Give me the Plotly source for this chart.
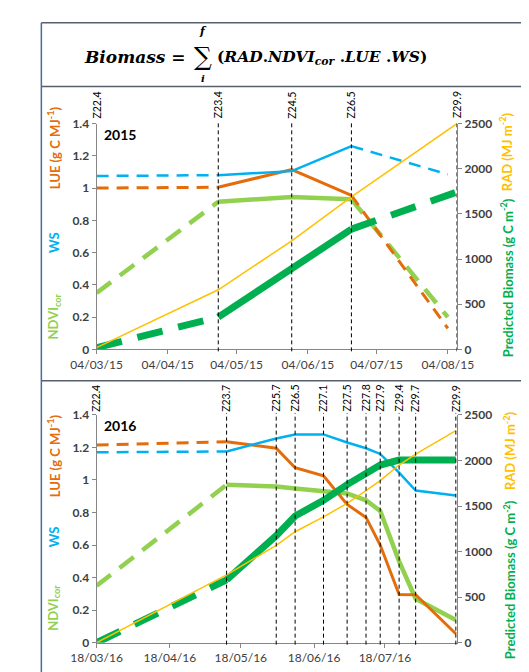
import plotly.graph_objects as go

W, H = 529, 672

# ---------------- 2015 data ----------------
stage_dates_15 = ["2015-03-04", "2015-04-26", "2015-05-28", "2015-06-23", "2015-08-08"]
stage_labels_15 = ["Z22.4", "Z23.4", "Z24.5", "Z26.5", "Z29.9"]
obs_dates_15 = ["2015-03-04", "2015-04-26", "2015-05-28", "2015-06-23", "2015-08-04"]
ws_15 = [1.075, 1.08, 1.105, 1.26, 1.085]
lue_15 = [1.0, 1.005, 1.115, 0.955, 0.13]
ndvi_15 = [0.35, 0.915, 0.945, 0.93, 0.2]
biomass_15 = [20, 357, 898, 1331, 1742]
rad_15 = [20, 660, 1201, 1688, 2500]
tick_dates_15 = ["2015-03-04", "2015-04-04", "2015-05-04", "2015-06-04", "2015-07-04", "2015-08-04"]
tick_labels_15 = ["04/03/15", "04/04/15", "04/05/15", "04/06/15", "04/07/15", "04/08/15"]
range_15 = ["2015-03-04", "2015-08-08"]

# ---------------- 2016 data ----------------
stage_dates_16 = ["2016-03-18", "2016-05-12", "2016-06-02", "2016-06-10", "2016-06-22", "2016-07-02",
                  "2016-07-10", "2016-07-16", "2016-07-24", "2016-07-31", "2016-08-17"]
stage_labels_16 = ["Z22.4", "Z23.7", "Z25.7", "Z26.5", "Z27.1", "Z27.5", "Z27.8", "Z27.9", "Z29.4", "Z29.7", "Z29.9"]
ws_16 = [1.17, 1.175, 1.255, 1.28, 1.28, 1.23, 1.195, 1.16, 1.045, 0.935, 0.905]
lue_16 = [1.215, 1.235, 1.195, 1.075, 1.026, 0.85, 0.77, 0.6, 0.296, 0.295, 0.055]
ndvi_16 = [0.35, 0.97, 0.96, 0.947, 0.93, 0.917, 0.875, 0.81, 0.5, 0.27, 0.14]
biomass_16 = [0, 690, 1175, 1390, 1562, 1735, 1864, 1950, 2004, 2004, 2004]
rad_16 = [0, 745, 1067, 1218, 1380, 1530, 1670, 1778, 1950, 2069, 2328]
tick_dates_16 = ["2016-03-18", "2016-04-18", "2016-05-18", "2016-06-18", "2016-07-18"]
tick_labels_16 = ["18/03/16", "18/04/16", "18/05/16", "18/06/16", "18/07/16"]
range_16 = ["2016-03-18", "2016-08-17 12:00"]

C_WS = "#00B0F0"
C_LUE = "#E46C0A"
C_NDVI = "#92D050"
C_BIO = "#00B050"
C_RAD = "#FFC000"
AXC = "#868686"
TXT = "#404040"
FONT = "Lato"

def py(px):
    return 1 - px / H

def pxx(px):
    return px / W

fig = go.Figure()

def add_series(x, y, color, width, dash, s0, s1, xa, ya):
    n = len(x)
    dx, dy = [], []
    if s0 > 0:
        dx += x[:s0 + 1]
        dy += y[:s0 + 1]
    if s1 < n - 1:
        if dx:
            dx.append(None)
            dy.append(None)
        dx += x[s1:]
        dy += y[s1:]
    if dx:
        fig.add_trace(go.Scatter(x=dx, y=dy, mode="lines", xaxis=xa, yaxis=ya,
                                 line=dict(color=color, width=width, dash=dash),
                                 connectgaps=False, hoverinfo="skip", showlegend=False))
    fig.add_trace(go.Scatter(x=x[s0:s1 + 1], y=y[s0:s1 + 1], mode="lines", xaxis=xa, yaxis=ya,
                             line=dict(color=color, width=width), hoverinfo="skip", showlegend=False))

# 2015 panel
add_series(obs_dates_15, ndvi_15, C_NDVI, 4.5, "18px,11px", 1, 3, "x", "y")
add_series(obs_dates_15, lue_15, C_LUE, 3, "12px,8px", 1, 3, "x", "y")
add_series(obs_dates_15, ws_15, C_WS, 2.5, "12px,8px", 1, 3, "x", "y")
add_series(stage_dates_15, biomass_15, C_BIO, 7, "26px,16px", 1, 3, "x", "y2")
fig.add_trace(go.Scatter(x=stage_dates_15, y=rad_15, mode="lines", xaxis="x", yaxis="y2",
                         line=dict(color=C_RAD, width=1.5), hoverinfo="skip", showlegend=False))

# 2016 panel
n16 = len(stage_dates_16) - 1
add_series(stage_dates_16, ndvi_16, C_NDVI, 4.5, "18px,11px", 1, n16, "x2", "y3")
add_series(stage_dates_16, lue_16, C_LUE, 3, "12px,8px", 1, n16, "x2", "y3")
add_series(stage_dates_16, ws_16, C_WS, 2.5, "12px,8px", 1, n16, "x2", "y3")
add_series(stage_dates_16, biomass_16, C_BIO, 7, "26px,16px", 1, n16, "x2", "y4")
fig.add_trace(go.Scatter(x=stage_dates_16, y=rad_16, mode="lines", xaxis="x2", yaxis="y4",
                         line=dict(color=C_RAD, width=1.5), hoverinfo="skip", showlegend=False))

XD = [pxx(68), pxx(459.5)]
Y1 = [py(341), py(110)]
Y2 = [py(641), py(408)]

xcommon = dict(type="date", showgrid=False, zeroline=False, showline=True, linecolor=AXC, linewidth=1,
               ticks="outside", ticklen=4, tickcolor=AXC, tickfont=dict(family=FONT, size=12, color=TXT))
ycommon = dict(showgrid=False, zeroline=False, showline=True, linecolor=AXC, linewidth=1,
               ticks="outside", ticklen=4, tickcolor=AXC,
               tickfont=dict(family=FONT, size=12, color=TXT, weight="bold"))

fig.update_layout(
    width=W, height=H, margin=dict(l=0, r=0, t=0, b=0),
    paper_bgcolor="white", plot_bgcolor="white", showlegend=False,
    xaxis=dict(domain=XD, anchor="y", range=range_15, tickvals=tick_dates_15, ticktext=tick_labels_15, **xcommon),
    yaxis=dict(domain=Y1, anchor="x", range=[0, 1.4], dtick=0.2, tick0=0, **ycommon),
    yaxis2=dict(overlaying="y", side="right", anchor="x", range=[0, 2500], dtick=500, tick0=0, **ycommon),
    xaxis2=dict(domain=XD, anchor="y3", range=range_16, tickvals=tick_dates_16, ticktext=tick_labels_16, **xcommon),
    yaxis3=dict(domain=Y2, anchor="x2", range=[0, 1.4], dtick=0.2, tick0=0, **ycommon),
    yaxis4=dict(overlaying="y3", side="right", anchor="x2", range=[0, 2500], dtick=500, tick0=0, **ycommon),
)

shapes = []
annotations = []

# stage lines and labels
for dates, labels, xr, ybot, ytop, ylab in [
    (stage_dates_15, stage_labels_15, "x", 343, 107, 91),
    (stage_dates_16, stage_labels_16, "x2", 643, 406, 391),
]:
    for i, (d, lab) in enumerate(zip(dates, labels)):
        if i > 0:
            shapes.append(dict(type="line", xref=xr, yref="paper", x0=d, x1=d, y0=py(ybot), y1=py(ytop),
                               line=dict(color="black", width=1, dash="4px,3px"), layer="above"))
        annotations.append(dict(xref=xr, yref="paper", x=d, y=py(ylab), text=lab, showarrow=False,
                                textangle=-90, xanchor="center", yanchor="middle",
                                font=dict(family=FONT, size=10.5, color="black")))

# borders
bc = "#56606e"
shapes += [
    dict(type="line", xref="paper", yref="paper", x0=pxx(8), x1=1, y0=py(7), y1=py(7), line=dict(color=bc, width=1.5)),
    dict(type="line", xref="paper", yref="paper", x0=pxx(8), x1=1, y0=py(72), y1=py(72), line=dict(color=bc, width=1.5)),
    dict(type="line", xref="paper", yref="paper", x0=pxx(8), x1=1, y0=py(373), y1=py(373), line=dict(color=bc, width=1.5)),
    dict(type="line", xref="paper", yref="paper", x0=pxx(8), x1=pxx(8), y0=0, y1=py(7), line=dict(color="#4a6a9a", width=1.5)),
]

# year labels
annotations.append(dict(xref="paper", yref="paper", x=pxx(74), y=py(121), text="<b>2015</b>", showarrow=False,
                        xanchor="left", yanchor="middle", font=dict(family=FONT, size=14, color="black")))
annotations.append(dict(xref="paper", yref="paper", x=pxx(74), y=py(419), text="<b>2016</b>", showarrow=False,
                        xanchor="left", yanchor="middle", font=dict(family=FONT, size=14, color="black")))

# axis titles (rotated)
def vtitle(text, xpx, ypx, color):
    annotations.append(dict(xref="paper", yref="paper", x=pxx(xpx), y=py(ypx), text="<b>" + text + "</b>",
                            showarrow=False, textangle=-90, xanchor="center", yanchor="middle",
                            font=dict(family=FONT, size=13, color=color)))

vtitle("LUE (g C MJ<sup>-1</sup>)", 22, 135, C_LUE)
vtitle("WS", 22, 232, C_WS)
vtitle("NDVI<sub>cor</sub>", 22, 307, C_NDVI)
vtitle("Predicted Biomass (g C m<sup>-2</sup>)", 513, 268, C_BIO)
vtitle("RAD (MJ m<sup>-2</sup>)", 513, 139, C_RAD)

vtitle("LUE (g C MJ<sup>-1</sup>)", 22, 450, C_LUE)
vtitle("WS", 22, 533, C_WS)
vtitle("NDVI<sub>cor</sub>", 22, 605, C_NDVI)
vtitle("Predicted Biomass (g C m<sup>-2</sup>)", 516, 577, C_BIO)
vtitle("RAD (MJ m<sup>-2</sup>)", 516, 445, C_RAD)

# formula
SERIF = "DejaVu Serif"
annotations.append(dict(xref="paper", yref="paper", x=pxx(166), y=py(42), text="<b><i>Biomass</i> =</b>",
                        showarrow=False, xanchor="right", yanchor="middle",
                        font=dict(family=SERIF, size=17, color="black")))
annotations.append(dict(xref="paper", yref="paper", x=pxx(184), y=py(41), text="∑",
                        showarrow=False, xanchor="center", yanchor="middle",
                        font=dict(family=SERIF, size=25, color="black")))
annotations.append(dict(xref="paper", yref="paper", x=pxx(184), y=py(16), text="<b><i>f</i></b>",
                        showarrow=False, xanchor="center", yanchor="middle",
                        font=dict(family=SERIF, size=11, color="black")))
annotations.append(dict(xref="paper", yref="paper", x=pxx(184), y=py(64), text="<b><i>i</i></b>",
                        showarrow=False, xanchor="center", yanchor="middle",
                        font=dict(family=SERIF, size=10, color="black")))
annotations.append(dict(xref="paper", yref="paper", x=pxx(197), y=py(42),
                        text="<b>(<i>RAD</i>.<i>NDVI</i><sub><i>cor</i></sub> .<i>LUE</i> .<i>WS</i>)</b>",
                        showarrow=False, xanchor="left", yanchor="middle",
                        font=dict(family=SERIF, size=15.5, color="black")))

fig.update_layout(shapes=shapes, annotations=annotations)
fig.write_html("out.html")
